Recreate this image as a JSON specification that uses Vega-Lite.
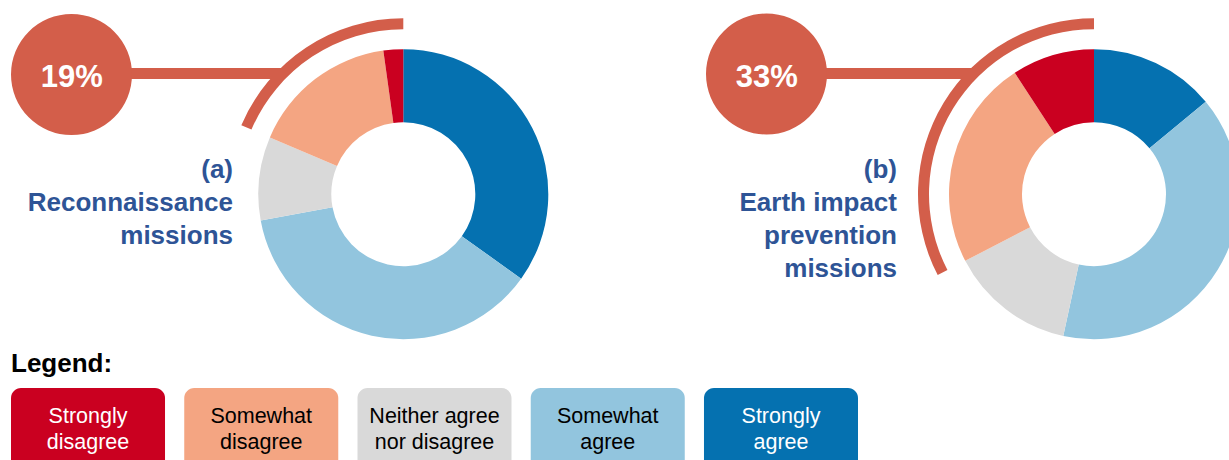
{
  "$schema": "https://vega.github.io/schema/vega-lite/v6.json",
  "width": 1229,
  "height": 460,
  "padding": 0,
  "autosize": {"type": "none"},
  "background": "white",
  "config": {"view": {"stroke": null}, "font": "Liberation Sans", "axis": {"disable": true}},
  "datasets": {
    "responses": [
      {"mission": "a", "category": "Strongly agree", "rank": 1, "pct": 34.9},
      {"mission": "a", "category": "Somewhat agree", "rank": 2, "pct": 37.2},
      {"mission": "a", "category": "Neither agree nor disagree", "rank": 3, "pct": 9.3},
      {"mission": "a", "category": "Somewhat disagree", "rank": 4, "pct": 16.4},
      {"mission": "a", "category": "Strongly disagree", "rank": 5, "pct": 2.2},
      {"mission": "b", "category": "Strongly agree", "rank": 1, "pct": 14.0},
      {"mission": "b", "category": "Somewhat agree", "rank": 2, "pct": 39.4},
      {"mission": "b", "category": "Neither agree nor disagree", "rank": 3, "pct": 14.0},
      {"mission": "b", "category": "Somewhat disagree", "rank": 4, "pct": 23.4},
      {"mission": "b", "category": "Strongly disagree", "rank": 5, "pct": 9.2}
    ],
    "missions": [
      {"mission": "a", "disagree": 0.19, "label": "(a)\nReconnaissance\nmissions"},
      {"mission": "b", "disagree": 0.33, "label": "(b)\nEarth impact\nprevention\nmissions"}
    ],
    "legend": [
      {"category": "Strongly disagree", "text": "Strongly\ndisagree"},
      {"category": "Somewhat disagree", "text": "Somewhat\ndisagree"},
      {"category": "Neither agree nor disagree", "text": "Neither agree\nnor disagree"},
      {"category": "Somewhat agree", "text": "Somewhat\nagree"},
      {"category": "Strongly agree", "text": "Strongly\nagree"}
    ],
    "heading": [{"title": "Legend:"}]
  },
  "resolve": {"scale": {"x": "independent"}},
  "layer": [
    {
      "layer": [
        {
          "data": {"name": "responses"},
          "transform": [
            {"filter": "datum.mission === 'a'"},
            {"stack": "pct", "groupby": ["mission"], "sort": [{"field": "rank", "order": "ascending"}], "as": ["start", "end"]}
          ],
          "mark": {"type": "arc", "radius": 145, "radius2": 72},
          "encoding": {
            "x": {"datum": 403.3, "type": "quantitative", "scale": {"domain": [0, 1229], "nice": false, "zero": false}, "axis": null},
            "y": {"datum": 194.2, "type": "quantitative", "scale": {"domain": [0, 460], "nice": false, "zero": false, "reverse": true}, "axis": null},
            "theta": {"field": "start", "type": "quantitative", "scale": {"domain": [0, 100], "range": [0, 6.283185307179586]}},
            "theta2": {"field": "end"},
            "color": {"field": "category", "type": "nominal", "legend": null,
              "scale": {"domain": ["Strongly disagree", "Somewhat disagree", "Neither agree nor disagree", "Somewhat agree", "Strongly agree"],
                        "range": ["#CA0020", "#F4A582", "#D9D9D9", "#92C5DE", "#0571B0"]}}
          }
        },
        {
          "data": {"name": "responses"},
          "transform": [
            {"filter": "datum.mission === 'b'"},
            {"stack": "pct", "groupby": ["mission"], "sort": [{"field": "rank", "order": "ascending"}], "as": ["start", "end"]}
          ],
          "mark": {"type": "arc", "radius": 145, "radius2": 72},
          "encoding": {
            "x": {"datum": 1094, "type": "quantitative", "axis": null},
            "y": {"datum": 194.2, "type": "quantitative", "axis": null},
            "theta": {"field": "start", "type": "quantitative"},
            "theta2": {"field": "end"},
            "color": {"field": "category", "type": "nominal", "legend": null}
          }
        },
        {
          "data": {"name": "responses"},
          "transform": [
            {"filter": "datum.mission === 'a'"},
            {"stack": "pct", "groupby": ["mission"], "sort": [{"field": "rank", "order": "ascending"}], "as": ["start", "end"]},
            {"filter": {"field": "category", "oneOf": ["Somewhat disagree", "Strongly disagree"]}},
            {"aggregate": [{"op": "min", "field": "start", "as": "s"}, {"op": "max", "field": "end", "as": "e"}], "groupby": ["mission"]}
          ],
          "mark": {"type": "arc", "radius": 176, "radius2": 165, "color": "#D35E4A"},
          "encoding": {
            "x": {"datum": 403.3, "type": "quantitative", "axis": null},
            "y": {"datum": 194.2, "type": "quantitative", "axis": null},
            "theta": {"field": "s", "type": "quantitative"},
            "theta2": {"field": "e"}
          }
        },
        {
          "data": {"name": "responses"},
          "transform": [
            {"filter": "datum.mission === 'b'"},
            {"stack": "pct", "groupby": ["mission"], "sort": [{"field": "rank", "order": "ascending"}], "as": ["start", "end"]},
            {"filter": {"field": "category", "oneOf": ["Somewhat disagree", "Strongly disagree"]}},
            {"aggregate": [{"op": "min", "field": "start", "as": "s"}, {"op": "max", "field": "end", "as": "e"}], "groupby": ["mission"]}
          ],
          "mark": {"type": "arc", "radius": 176, "radius2": 165, "color": "#D35E4A"},
          "encoding": {
            "x": {"datum": 1094, "type": "quantitative", "axis": null},
            "y": {"datum": 194.2, "type": "quantitative", "axis": null},
            "theta": {"field": "s", "type": "quantitative"},
            "theta2": {"field": "e"}
          }
        },
        {
          "data": {"name": "missions"},
          "transform": [{"filter": "datum.mission === 'a'"}],
          "mark": {"type": "rule", "color": "#D35E4A", "strokeWidth": 11},
          "encoding": {
            "x": {"datum": 71.5, "type": "quantitative", "axis": null},
            "x2": {"datum": 282},
            "y": {"datum": 73.5, "type": "quantitative", "axis": null}
          }
        },
        {
          "data": {"name": "missions"},
          "transform": [{"filter": "datum.mission === 'b'"}],
          "mark": {"type": "rule", "color": "#D35E4A", "strokeWidth": 11},
          "encoding": {
            "x": {"datum": 766.5, "type": "quantitative", "axis": null},
            "x2": {"datum": 973},
            "y": {"datum": 73.5, "type": "quantitative", "axis": null}
          }
        },
        {
          "data": {"name": "missions"},
          "transform": [{"filter": "datum.mission === 'a'"}],
          "mark": {"type": "point", "shape": "circle", "filled": true, "opacity": 1, "size": 14641, "color": "#D35E4A", "strokeWidth": 0},
          "encoding": {
            "x": {"datum": 71.5, "type": "quantitative", "axis": null},
            "y": {"datum": 74.5, "type": "quantitative", "axis": null}
          }
        },
        {
          "data": {"name": "missions"},
          "transform": [{"filter": "datum.mission === 'b'"}],
          "mark": {"type": "point", "shape": "circle", "filled": true, "opacity": 1, "size": 14641, "color": "#D35E4A", "strokeWidth": 0},
          "encoding": {
            "x": {"datum": 766.5, "type": "quantitative", "axis": null},
            "y": {"datum": 74, "type": "quantitative", "axis": null}
          }
        },
        {
          "data": {"name": "missions"},
          "transform": [{"filter": "datum.mission === 'a'"}],
          "mark": {"type": "text", "color": "white", "fontWeight": "bold", "fontSize": 31, "align": "center", "baseline": "alphabetic"},
          "encoding": {
            "x": {"datum": 71.7, "type": "quantitative", "axis": null},
            "y": {"datum": 87, "type": "quantitative", "axis": null},
            "text": {"field": "disagree", "type": "quantitative", "format": ".0%"}
          }
        },
        {
          "data": {"name": "missions"},
          "transform": [{"filter": "datum.mission === 'b'"}],
          "mark": {"type": "text", "color": "white", "fontWeight": "bold", "fontSize": 31, "align": "center", "baseline": "alphabetic"},
          "encoding": {
            "x": {"datum": 766.8, "type": "quantitative", "axis": null},
            "y": {"datum": 87, "type": "quantitative", "axis": null},
            "text": {"field": "disagree", "type": "quantitative", "format": ".0%"}
          }
        },
        {
          "data": {"name": "missions"},
          "transform": [{"filter": "datum.mission === 'a'"}],
          "mark": {"type": "text", "color": "#2E5496", "fontWeight": "bold", "fontSize": 26, "align": "right", "baseline": "alphabetic", "lineBreak": "\n", "lineHeight": 33},
          "encoding": {
            "x": {"datum": 233, "type": "quantitative", "axis": null},
            "y": {"datum": 178, "type": "quantitative", "axis": null},
            "text": {"field": "label", "type": "nominal"}
          }
        },
        {
          "data": {"name": "missions"},
          "transform": [{"filter": "datum.mission === 'b'"}],
          "mark": {"type": "text", "color": "#2E5496", "fontWeight": "bold", "fontSize": 26, "align": "right", "baseline": "alphabetic", "lineBreak": "\n", "lineHeight": 33},
          "encoding": {
            "x": {"datum": 897, "type": "quantitative", "axis": null},
            "y": {"datum": 178, "type": "quantitative", "axis": null},
            "text": {"field": "label", "type": "nominal"}
          }
        },
        {
          "data": {"name": "heading"},
          "mark": {"type": "text", "color": "black", "fontWeight": "bold", "fontSize": 26, "align": "left", "baseline": "alphabetic"},
          "encoding": {
            "x": {"datum": 11, "type": "quantitative", "axis": null},
            "y": {"datum": 372, "type": "quantitative", "axis": null},
            "text": {"field": "title", "type": "nominal"}
          }
        }
      ]
    },
    {
      "data": {"name": "legend"},
      "layer": [
        {
          "mark": {"type": "rect", "cornerRadius": 10},
          "encoding": {
            "x": {"field": "category", "type": "nominal", "axis": null,
              "scale": {"type": "band", "domain": ["Strongly disagree", "Somewhat disagree", "Neither agree nor disagree", "Somewhat agree", "Strongly agree"],
                        "range": [11, 858], "paddingInner": 0.111, "paddingOuter": 0}},
            "y": {"datum": 388, "type": "quantitative", "axis": null},
            "y2": {"datum": 474},
            "color": {"field": "category", "type": "nominal", "legend": null}
          }
        },
        {
          "mark": {"type": "text", "fontSize": 21.5, "align": "center", "baseline": "alphabetic", "lineBreak": "\n", "lineHeight": 26},
          "encoding": {
            "x": {"field": "category", "type": "nominal", "axis": null},
            "y": {"datum": 423, "type": "quantitative", "axis": null},
            "text": {"field": "text", "type": "nominal"},
            "color": {"condition": {"test": "indexof(datum.category, 'Strongly') === 0", "value": "white"}, "value": "black"}
          }
        }
      ]
    }
  ]
}
